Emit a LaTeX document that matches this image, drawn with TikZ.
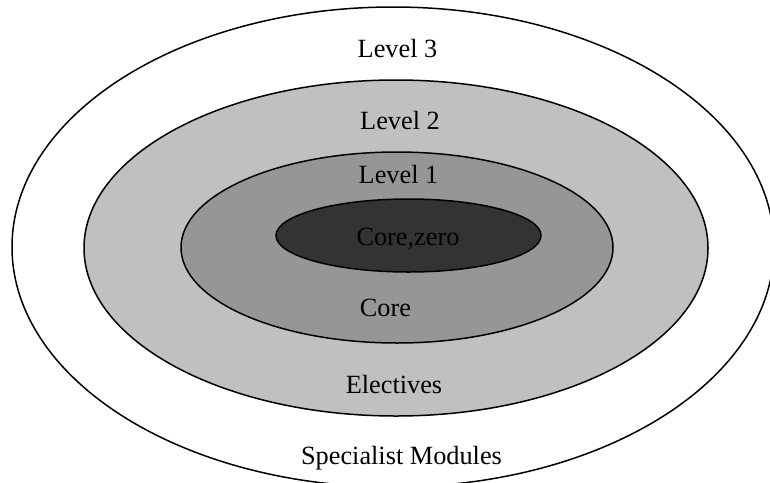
\documentclass[tikz,border=0pt]{standalone}
\usepackage{fontspec}
\setmainfont{Liberation Serif}
\definecolor{ringtwo}{RGB}{192,192,192}
\definecolor{ringone}{RGB}{150,150,150}
\definecolor{ringzero}{RGB}{51,51,51}
\begin{document}
\begin{tikzpicture}[x=1pt,y=-1pt,
  ring/.style={draw=black,line width=1.5pt},
  lbl/.style={font=\fontsize{26.3}{30}\selectfont,inner sep=0pt,text=black,anchor=base}]
\useasboundingbox (0,0) rectangle (770,482);
\begin{scope}
\clip (0,0) rectangle (770,482);
\draw[ring,fill=white] (393,247) ellipse [x radius=381,y radius=240];
\end{scope}
\draw[ring,fill=ringtwo] (396,248) ellipse [x radius=312,y radius=168];
\draw[ring,fill=ringone] (397,247.5) ellipse [x radius=216,y radius=95.5];
\draw[ring,fill=ringzero] (408.5,235.5) ellipse [x radius=132.5,y radius=36.5];
\node[lbl] (l3) at (397.5,57) {Level 3};
\node[lbl] (l2) at (400,129) {Level 2};
\node[lbl] (l1) at (398.5,183.5) {Level 1};
\node[lbl] (cz) at (408,245) {Core,zero};
\node[lbl] (co) at (385.5,316.7) {Core};
\node[lbl] (el) at (394,393.3) {Electives};
\node[lbl] (sm) at (401.5,464) {Specialist Modules};
\end{tikzpicture}
\end{document}
